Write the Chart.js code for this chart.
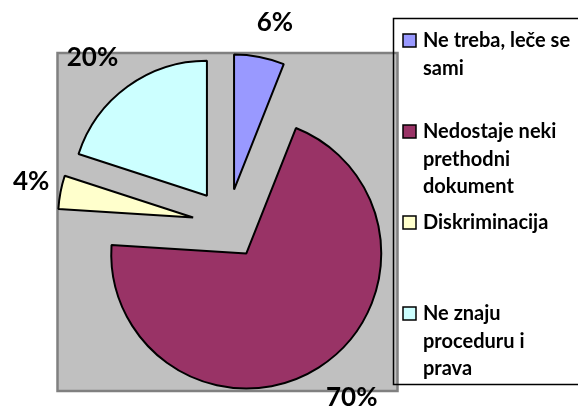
<!DOCTYPE html>
<html>
<head>
<meta charset="utf-8">
<script src="https://cdn.jsdelivr.net/npm/chart.js@4.4.1/dist/chart.umd.min.js"></script>
<style>
  html, body { margin: 0; padding: 0; background: #fff; }
  #wrap { width: 578px; height: 410px; }
</style>
</head>
<body>
<div id="wrap"><canvas id="pie" width="578" height="410"></canvas></div>
<script>
// legend text, one entry per slice (already split into lines as in the original)
const categories = [
  ['Ne treba, leče se', 'sami'],
  ['Nedostaje neki', 'prethodni', 'dokument'],
  ['Diskriminacija'],
  ['Ne znaju', 'proceduru i', 'prava'],
];
const shares = [6, 70, 4, 20];
const sliceColors = ['#9999FF', '#993366', '#FFFFCC', '#CCFFFF'];

const RADIUS = 135;
const EXPLODE = 35;   // px every slice is pulled out of the centre
const FONT = 'Lato, "Open Sans", sans-serif';

// chart.js "offset" also grows/narrows the arc, so pull the slices out by hand
const explode = {
  id: 'explode',
  beforeDatasetDraw(chart, args) {
    args.meta.data.forEach(arc => {
      if (arc.$exploded) return;
      const draw = arc.draw;
      arc.draw = function (ctx) {
        const mid = (this.startAngle + this.endAngle) / 2;
        ctx.save();
        ctx.translate(Math.cos(mid) * EXPLODE, Math.sin(mid) * EXPLODE);
        draw.call(this, ctx);
        ctx.restore();
      };
      arc.$exploded = true;
    });
  },
};

const backdrop = {
  id: 'backdrop',
  beforeDatasetsDraw(chart) {
    const arc = chart.getDatasetMeta(0).data[0];
    const ctx = chart.ctx;
    const cx = arc.x, cy = arc.y;
    ctx.save();
    ctx.fillStyle = '#C0C0C0';
    ctx.fillRect(cx - 170, cy - 171, 340, 338);
    ctx.strokeStyle = '#808080';
    ctx.lineWidth = 2.5;
    ctx.strokeRect(cx - 170, cy - 171, 340, 338);
    ctx.restore();
  },
};

const extras = {
  id: 'extras',
  afterDraw(chart) {
    const ctx = chart.ctx;
    const meta = chart.getDatasetMeta(0);
    const total = shares.reduce((a, b) => a + b, 0);

    // percentage labels outside the slices, kept inside the canvas margin
    ctx.save();
    ctx.font = 'bold 26px ' + FONT;
    ctx.fillStyle = '#000';
    ctx.textAlign = 'center';
    ctx.textBaseline = 'middle';
    meta.data.forEach((arc, i) => {
      const mid = (arc.startAngle + arc.endAngle) / 2;
      const c = Math.cos(mid), s = Math.sin(mid);
      const txt = Math.round(shares[i] / total * 100) + '%';
      const w = ctx.measureText(txt).width;
      const h = 19;
      const dist = 195;
      let x = arc.x + c * dist + (c * w / 2 + Math.sign(c) * w / 2) / 2;
      let y = arc.y + s * dist + (s * h / 2 + Math.sign(s) * h / 2) / 2;
      x = Math.max(x, 13 + w / 2);
      y = Math.max(y, 13 + h / 2);
      ctx.fillText(txt, x, y);
    });
    ctx.restore();

    // legend box
    ctx.save();
    ctx.strokeStyle = '#000';
    ctx.lineWidth = 1.5;
    ctx.strokeRect(393.5, 18.5, 200, 366);
    ctx.font = 'bold 20px ' + FONT;
    ctx.textBaseline = 'middle';
    ctx.textAlign = 'left';
    categories.forEach((lines, i) => {
      const y0 = 41 + i * 91;
      ctx.fillStyle = sliceColors[i];
      ctx.fillRect(403, y0 - 7, 13, 13);
      ctx.strokeStyle = '#000';
      ctx.lineWidth = 1.5;
      ctx.strokeRect(403, y0 - 7, 13, 13);
      ctx.fillStyle = '#000';
      lines.forEach((line, k) => ctx.fillText(line, 423, y0 + k * 27.5));
    });
    ctx.restore();
  },
};

new Chart(document.getElementById('pie'), {
  type: 'pie',
  data: {
    labels: categories,
    datasets: [{
      data: shares,
      backgroundColor: sliceColors,
      borderColor: '#000',
      borderWidth: 2,
      hoverOffset: 0,
    }],
  },
  options: {
    responsive: false,
    animation: false,
    radius: RADIUS,
    layout: { padding: { left: 0, right: 123, top: 38, bottom: 0 } },
    plugins: {
      legend: { display: false },
      tooltip: { enabled: false },
    },
  },
  plugins: [explode, backdrop, extras],
});
</script>
</body>
</html>
